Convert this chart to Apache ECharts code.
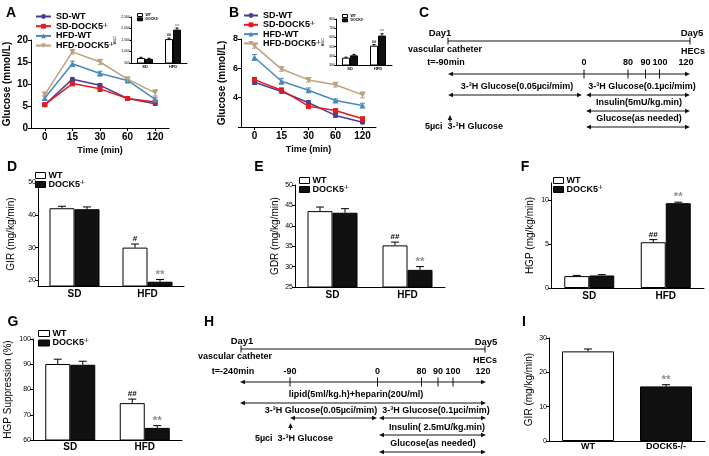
<!DOCTYPE html>
<html><head><meta charset="utf-8">
<script src="https://cdn.jsdelivr.net/npm/echarts@6/dist/echarts.min.js"></script>
<style>html,body{margin:0;padding:0;background:#fff}#c{width:709px;height:456px}</style>
</head><body><div id="c"></div>
<script>
const FONT = '"Liberation Sans", Arial, sans-serif';

// ---------- data ----------
const timeCats = ['0', '15', '30', '60', '120'];
const lineNames = ['SD-WT', 'SD-DOCK5-/-', 'HFD-WT', 'HFD-DOCK5-/-'];

// Panel A (glucose, mmol/L)
const aSdWt = [5.3, 11.1, 9.7, 6.7, 5.5];
const aSdWtErr = [0.3, 0.3, 0.4, 0.2, 0.3];
const aSdKo = [5.3, 10.1, 8.9, 6.7, 5.9];
const aSdKoErr = [0.3, 0.5, 0.6, 0.2, 0.3];
const aHfdWt = [6.8, 14.6, 12.4, 10.8, 6.5];
const aHfdWtErr = [0.5, 0.6, 0.5, 0.3, 0.5];
const aHfdKo = [7.6, 17.3, 15.0, 11.1, 8.0];
const aHfdKoErr = [0.5, 0.5, 0.6, 0.4, 0.7];

// Panel B (glucose, mmol/L)
const bSdWt = [5.05, 4.42, 3.65, 2.79, 2.33];
const bSdWtErr = [0.15, 0.1, 0.15, 0.12, 0.1];
const bSdKo = [5.23, 4.51, 3.42, 3.12, 2.56];
const bSdKoErr = [0.15, 0.15, 0.15, 0.12, 0.12];
const bHfdWt = [6.74, 5.12, 4.51, 3.81, 3.47];
const bHfdWtErr = [0.2, 0.2, 0.15, 0.1, 0.15];
const bHfdKo = [7.53, 5.95, 5.21, 4.88, 4.19];
const bHfdKoErr = [0.15, 0.15, 0.15, 0.15, 0.2];

const groupCats = ['SD', 'HFD'];
// insets (AUC)
const aucAWt = [720, 1540], aucAWtErr = [30, 40], aucAKo = [680, 1950], aucAKoErr = [25, 70];
const aucBWt = [380, 510], aucBWtErr = [5, 12], aucBKo = [405, 620], aucBKoErr = [10, 20];
const sigAucWt = ['', '##'], sigAucKo = ['', '**'];

// D GIR
const dWt = [42.0, 30.0], dWtErr = [0.6, 1.1], dKo = [41.7, 19.6], dKoErr = [0.7, 0.7];
const sigDWt = ['', '#'], sigDKo = ['', '**'];
const dTicks = [20, 30, 40, 50];
// E GDR
const eWt = [43.6, 35.2], eWtErr = [1.0, 0.8], eKo = [43.2, 29.2], eKoErr = [1.0, 0.8];
const sigEWt = ['', '##'], sigEKo = ['', '**'];
// F HGP
const fWt = [1.36, 5.23], fWtErr = [0.08, 0.3], fKo = [1.43, 9.69], fKoErr = [0.1, 0.12];
const sigFWt = ['', '##'], sigFKo = ['', '**'];
const fTicks = [0, 5, 10];
// G HGP suppression
const gWt = [90.1, 74.6], gWtErr = [1.9, 1.6], gKo = [89.8, 64.8], gKoErr = [1.4, 0.9];
const sigGWt = ['', '##'], sigGKo = ['', '**'];
// I GIR
const iCats = ['WT', 'DOCK5-/-'];
const iVals = [26.1, 15.9], iErr = [0.7, 0.5], sigI = ['', '**'];

// ---------- styles ----------
const lineColors = ['#4b3d8f', '#e41a1c', '#4a89bb', '#bca27e'];
const lineSymbols = ['circle', 'rect', 'triangle', 'triangle'];
const lineRot = [0, 0, 0, 180];
const SIGGREY = '#8f8f8f';

function merge(a, b) {
  const out = Array.isArray(a) ? a.slice() : Object.assign({}, a);
  for (const k in b) {
    if (b[k] && typeof b[k] === 'object' && !Array.isArray(b[k]) && a[k] && typeof a[k] === 'object') out[k] = merge(a[k], b[k]);
    else out[k] = b[k];
  }
  return out;
}

const grids = [
  {left: 31, top: 40, width: 138, height: 88},   // 0 A
  {left: 131, top: 17, width: 56, height: 46},   // 1 A inset
  {left: 241, top: 39, width: 135, height: 88},  // 2 B
  {left: 336, top: 19, width: 56, height: 46},   // 3 B inset
  {left: 38, top: 182, width: 146, height: 104}, // 4 D
  {left: 295, top: 185, width: 150, height: 102},// 5 E
  {left: 551, top: 183, width: 153, height: 105},// 6 F
  {left: 33, top: 339, width: 149, height: 101}, // 7 G
  {left: 549, top: 338, width: 156, height: 103} // 8 I
].map(g => Object.assign({outerBoundsMode: 'none', containLabel: false}, g));

const baseX = {
  type: 'category', splitLine: {show: false},
  axisLine: {show: true, lineStyle: {color: '#000', width: 1}},
  axisTick: {show: false},
  axisLabel: {color: '#000', fontSize: 10, fontWeight: 'bold', fontFamily: FONT, margin: 3},
  nameLocation: 'middle',
  nameTextStyle: {color: '#000', fontSize: 9, fontWeight: 'bold', fontFamily: FONT}
};
const baseY = {
  type: 'value', splitLine: {show: false},
  axisLine: {show: true, lineStyle: {color: '#000', width: 1}},
  axisTick: {show: true, length: 3, lineStyle: {color: '#000', width: 1}},
  axisLabel: {color: '#000', fontSize: 7, fontFamily: FONT, margin: 2},
  nameLocation: 'middle',
  nameTextStyle: {color: '#000', fontSize: 10, fontFamily: FONT}
};

const xAxes = [
  merge(baseX, {gridIndex: 0, data: timeCats, name: 'Time (min)', nameGap: 18,
    axisTick: {show: true, alignWithLabel: true, length: 3, lineStyle: {color: '#000'}},
    axisLabel: {margin: 4}}),
  merge(baseX, {gridIndex: 1, data: groupCats, axisLabel: {fontSize: 4, margin: 1.5}}),
  merge(baseX, {gridIndex: 2, data: timeCats, name: 'Time (min)', nameGap: 18,
    axisTick: {show: true, alignWithLabel: true, length: 3, lineStyle: {color: '#000'}},
    axisLabel: {margin: 4}}),
  merge(baseX, {gridIndex: 3, data: groupCats, axisLabel: {fontSize: 4, margin: 1.5}}),
  merge(baseX, {gridIndex: 4, data: groupCats}),
  merge(baseX, {gridIndex: 5, data: groupCats}),
  merge(baseX, {gridIndex: 6, data: groupCats}),
  merge(baseX, {gridIndex: 7, data: groupCats, axisLabel: {margin: 2}}),
  merge(baseX, {gridIndex: 8, data: iCats, axisLabel: {margin: 1, fontSize: 9}})
];

function cv(ticks) { return {customValues: ticks}; }

const yAxes = [
  merge(baseY, {gridIndex: 0, min: 0, max: 20, interval: 5, name: 'Glucose (mmol/L)', nameGap: 19,
    nameTextStyle: {fontWeight: 'bold'}, axisLabel: {fontSize: 10, fontWeight: 'bold', margin: 3}}),
  merge(baseY, {gridIndex: 1, min: 500, max: 2500, interval: 500, name: 'AUC', nameGap: 12,
    nameTextStyle: {fontSize: 4}, axisTick: {length: 1.5}, axisLabel: {fontSize: 3.5, margin: 1}}),
  merge(baseY, {gridIndex: 2, min: 2, max: 8, interval: 2, name: 'Glucose (mmol/L)', nameGap: 14,
    nameTextStyle: {fontWeight: 'bold'},
    axisLabel: {fontSize: 9, fontWeight: 'bold', margin: 3, formatter: v => (v === 2 ? '' : String(v))}}),
  merge(baseY, {gridIndex: 3, min: 300, max: 800, interval: 100, name: 'AUC', nameGap: 10,
    nameTextStyle: {fontSize: 4}, axisTick: {length: 1.5}, axisLabel: {fontSize: 3.5, margin: 1}}),
  merge(baseY, {gridIndex: 4, min: 18.3, max: 50, name: 'GIR (mg/kg/min)', nameGap: 22,
    axisLabel: cv(dTicks), axisTick: cv(dTicks)}),
  merge(baseY, {gridIndex: 5, min: 25, max: 50, interval: 5, name: 'GDR (mg/kg/min)', nameGap: 15}),
  merge(baseY, {gridIndex: 6, min: 0, max: 12, name: 'HGP (mg/kg/min)', nameGap: 16,
    axisLabel: cv(fTicks), axisTick: cv(fTicks)}),
  merge(baseY, {gridIndex: 7, min: 60, max: 100, interval: 10, name: 'HGP Suppression (%)', nameGap: 20}),
  merge(baseY, {gridIndex: 8, min: 0, max: 30, interval: 10, name: 'GIR (mg/kg/min)', nameGap: 15})
];

const series = [];

function addLine(g, idx, vals, errs) {
  const color = lineColors[idx];
  series.push({
    type: 'custom', name: 'err-' + g + '-' + idx, xAxisIndex: g, yAxisIndex: g, z: 3,
    data: vals.map((v, i) => [i, v, errs[i]]),
    encode: {x: 0, y: 1},
    renderItem: (params, api) => {
      const i = api.value(0), v = api.value(1), e = api.value(2);
      const t = api.coord([i, v + e]), b = api.coord([i, v - e]);
      const x = t[0], w = 2.5, st = {stroke: color, lineWidth: 1};
      return {type: 'group', children: [
        {type: 'line', shape: {x1: x, y1: t[1], x2: x, y2: b[1]}, style: st},
        {type: 'line', shape: {x1: x - w, y1: t[1], x2: x + w, y2: t[1]}, style: st},
        {type: 'line', shape: {x1: x - w, y1: b[1], x2: x + w, y2: b[1]}, style: st}
      ]};
    }
  });
  series.push({
    type: 'line', name: lineNames[idx], xAxisIndex: g, yAxisIndex: g, z: 4,
    data: vals, symbol: lineSymbols[idx], symbolRotate: lineRot[idx],
    symbolSize: idx >= 2 ? 6 : 5,
    lineStyle: {color, width: 1.5}, itemStyle: {color},
    emphasis: {disabled: true}, animation: false
  });
}

function addBarPair(g, wt, wtErr, ko, koErr, sigWt, sigKo, barW, cap, sigSize) {
  series.push({type: 'bar', name: 'WT', xAxisIndex: g, yAxisIndex: g, data: wt,
    barWidth: barW, barGap: '0%', itemStyle: {color: '#fff', borderColor: '#000', borderWidth: 1}, animation: false});
  series.push({type: 'bar', name: 'DOCK5-/-', xAxisIndex: g, yAxisIndex: g, data: ko,
    barWidth: barW, barGap: '0%', itemStyle: {color: '#111', borderColor: '#000', borderWidth: 1}, animation: false});
  addBarErr(g, wt, wtErr, sigWt, -barW / 2, cap, sigSize);
  addBarErr(g, ko, koErr, sigKo, barW / 2, cap, sigSize);
}

function addBarErr(g, vals, errs, sigs, dx, cap, sigSize) {
  series.push({
    type: 'custom', name: 'berr', xAxisIndex: g, yAxisIndex: g, z: 5,
    data: vals.map((v, i) => [i, v, errs[i]]),
    encode: {x: 0, y: 1},
    renderItem: (params, api) => {
      const i = api.value(0), v = api.value(1), e = api.value(2);
      const b = api.coord([i, v]), t = api.coord([i, v + e]);
      const x = b[0] + dx, st = {stroke: '#000', lineWidth: 1};
      const s = sigs[params.dataIndex];
      const star = s.indexOf('*') >= 0;
      const kids = [
        {type: 'line', shape: {x1: x, y1: b[1], x2: x, y2: t[1]}, style: st},
        {type: 'line', shape: {x1: x - cap, y1: t[1], x2: x + cap, y2: t[1]}, style: st}
      ];
      if (s) kids.push({type: 'text', x: x, y: t[1] - (star ? -1 : 1), style: {
        text: s, fill: star ? SIGGREY : '#000',
        fontSize: star ? sigSize * 1.45 : sigSize, fontFamily: FONT, fontWeight: 'bold',
        textAlign: 'center', textVerticalAlign: 'bottom'}});
      return {type: 'group', children: kids};
    }
  });
}

// A
addLine(0, 0, aSdWt, aSdWtErr);
addLine(0, 1, aSdKo, aSdKoErr);
addLine(0, 2, aHfdWt, aHfdWtErr);
addLine(0, 3, aHfdKo, aHfdKoErr);
addBarPair(1, aucAWt, aucAWtErr, aucAKo, aucAKoErr, sigAucWt, sigAucKo, 8, 1.5, 4);
// B
addLine(2, 0, bSdWt, bSdWtErr);
addLine(2, 1, bSdKo, bSdKoErr);
addLine(2, 2, bHfdWt, bHfdWtErr);
addLine(2, 3, bHfdKo, bHfdKoErr);
addBarPair(3, aucBWt, aucBWtErr, aucBKo, aucBKoErr, sigAucWt, sigAucKo, 8, 1.5, 4);
// D E F G
addBarPair(4, dWt, dWtErr, dKo, dKoErr, sigDWt, sigDKo, 25, 4, 8);
addBarPair(5, eWt, eWtErr, eKo, eKoErr, sigEWt, sigEKo, 25, 4, 8);
addBarPair(6, fWt, fWtErr, fKo, fKoErr, sigFWt, sigFKo, 25, 4, 8);
addBarPair(7, gWt, gWtErr, gKo, gKoErr, sigGWt, sigGKo, 25, 4, 8);
// I
series.push({type: 'bar', name: 'GIR', xAxisIndex: 8, yAxisIndex: 8, barWidth: 52, animation: false,
  data: iVals.map((v, i) => ({value: v, itemStyle: {color: i === 0 ? '#fff' : '#111', borderColor: '#000', borderWidth: 1}}))});
addBarErr(8, iVals, iErr, sigI, 0, 4, 8);

// ---------- legends ----------
function supFmt(name) {
  return name.endsWith('-/-') ? '{b|' + name.slice(0, -3) + '}{s|-/-}' : '{b|' + name + '}';
}
function richFor(size, lh) {
  return {
    b: {fontSize: size, fontWeight: 'bold', fontFamily: FONT, color: '#000', lineHeight: lh},
    s: {fontSize: Math.max(size * 0.55, 2.5), fontWeight: 'bold', fontFamily: FONT, color: '#000', verticalAlign: 'top', lineHeight: lh}
  };
}
const barLegendData = [
  {name: 'WT', icon: 'rect', itemStyle: {color: '#fff', borderColor: '#000', borderWidth: 1}},
  {name: 'DOCK5-/-', icon: 'rect', itemStyle: {color: '#111', borderColor: '#000', borderWidth: 1}}
];
function barLegend(left, top, w, h, size, lh, gap) {
  return {left, top, orient: 'vertical', itemWidth: w, itemHeight: h, itemGap: gap, padding: 0,
    selectedMode: false, data: barLegendData, formatter: supFmt,
    textStyle: {padding: [0, 0, 0, -2], rich: richFor(size, lh)}};
}
function lineLegend(left, top, w, gap, lh) {
  return {left, top, orient: 'vertical', itemWidth: w, itemHeight: 6, itemGap: gap, padding: 0,
    selectedMode: false, data: lineNames, formatter: supFmt,
    textStyle: {rich: richFor(9, lh)}};
}
const legends = [
  lineLegend(35, 12, 15, 0.7, 7),
  lineLegend(243, 11, 14, 0.3, 7),
  barLegend(137, 13, 5, 3, 3.5, 4, 0.3),
  barLegend(342, 14, 5, 3, 3.5, 4, 0.3),
  barLegend(35, 171, 10, 6, 9, 9, 0),
  barLegend(299, 176, 10, 6, 9, 9, 0),
  barLegend(553, 176, 10, 6, 9, 9, 0),
  barLegend(38, 329, 11, 6, 9, 9, 0.5)
];

// ---------- diagrams (C, H) and panel letters ----------
const DF = 9;
function T(x, y, text, size, weight, align) {
  return {type: 'text', x, y, style: {text, fontSize: size || DF, fontWeight: weight || 'bold',
    fontFamily: FONT, fill: '#000', textAlign: align || 'center', textVerticalAlign: 'middle'}};
}
function L(x1, y1, x2, y2, w) {
  return {type: 'line', shape: {x1, y1, x2, y2}, style: {stroke: '#111', lineWidth: w || 1}};
}
function head(x, y, dir) {
  const pts = dir === 'l' ? [[x, y], [x + 5, y - 2.3], [x + 5, y + 2.3]]
    : dir === 'r' ? [[x, y], [x - 5, y - 2.3], [x - 5, y + 2.3]]
    : [[x, y], [x - 2.3, y + 5], [x + 2.3, y + 5]];
  return {type: 'polygon', shape: {points: pts}, style: {fill: '#111'}};
}
function arrow(x1, x2, y) {
  return [L(x1 + 2, y, x2 - 2, y), head(x1, y, 'l'), head(x2, y, 'r')];
}
function upArrow(x, y1, y2) { return [L(x, y1 + 3, x, y2), head(x, y1, 'u')]; }
function dayLine(x1, x2, y) { return [L(x1, y, x2, y), L(x1, y - 3.5, x1, y + 3.5), L(x2, y - 3.5, x2, y + 3.5)]; }
function ticks(xs, y) { return xs.map(x => L(x, y - 4.5, x, y + 4.5)); }

const gC = [].concat(
  [T(440, 33, 'Day1', 9.5), T(692, 33, 'Day5', 9.5)],
  dayLine(448, 690, 41),
  [T(445, 50, 'vascular catheter'), T(693, 52, 'HECs'), T(446, 63, 't=-90min')],
  [T(584, 63, '0'), T(628, 63, '80'), T(645.5, 63, '90'), T(660, 63, '100'), T(686, 63, '120')],
  arrow(448, 690, 74), ticks([584, 628, 645.5, 659.5], 74),
  [T(517, 87, '3-³H Glucose(0.05µci/mim)'), T(642, 87, '3-³H Glucose(0.1µci/mim)')],
  arrow(448, 582, 95), arrow(586, 690, 95),
  [T(639, 103, 'Insulin(5mU/kg.min)')], arrow(586, 690, 111),
  [T(639, 119, 'Glucose(as needed)')], arrow(586, 690, 127),
  upArrow(450, 115, 122), [T(464, 127, '5µci  3-³H Glucose')]
);
const gH = [].concat(
  [T(242, 341, 'Day1', 9.5), T(486, 342, 'Day5', 9.5)],
  dayLine(241, 485, 349),
  [T(235, 357, 'vascular catheter'), T(485, 361, 'HECs'), T(233, 372, 't=-240min')],
  [T(290, 372, '-90'), T(377.5, 372, '0'), T(421.5, 372, '80'), T(438, 372, '90'), T(453, 372, '100'), T(483, 372, '120')],
  arrow(240, 486, 382), ticks([290, 377.5, 421.5, 438, 453], 382),
  [T(356, 395, 'lipid(5ml/kg.h)+heparin(20U/ml)')], arrow(240, 486, 403),
  [T(321, 411, '3-³H Glucose(0.05µci/mim)'), T(436, 411, '3-³H Glucose(0.1µci/mim)')],
  arrow(290, 377, 418), arrow(379, 486, 418),
  upArrow(290.5, 423, 430), [T(294, 439, '5µci  3-³H Glucose')],
  [T(437, 428, 'Insulin( 2.5mU/kg.min)')], arrow(379, 486, 435),
  [T(433, 444, 'Glucose(as needed)')], arrow(379, 486, 452)
);
const letters = [
  T(11, 13, 'A', 14, 'bold'), T(234, 13, 'B', 14, 'bold'), T(424, 13, 'C', 14, 'bold'),
  T(12, 167, 'D', 14, 'bold'), T(259, 167, 'E', 14, 'bold'), T(525, 167, 'F', 14, 'bold'),
  T(13, 322, 'G', 14, 'bold'), T(209, 322, 'H', 14, 'bold'), T(524, 322, 'I', 14, 'bold')
];

const chart = echarts.init(document.getElementById('c'), null, {renderer: 'canvas', width: 709, height: 456});
chart.setOption({
  backgroundColor: '#fff',
  animation: false,
  textStyle: {fontFamily: FONT},
  grid: grids,
  xAxis: xAxes,
  yAxis: yAxes,
  legend: legends,
  series: series,
  graphic: {elements: [].concat(gC, gH, letters)}
});
</script></body></html>
